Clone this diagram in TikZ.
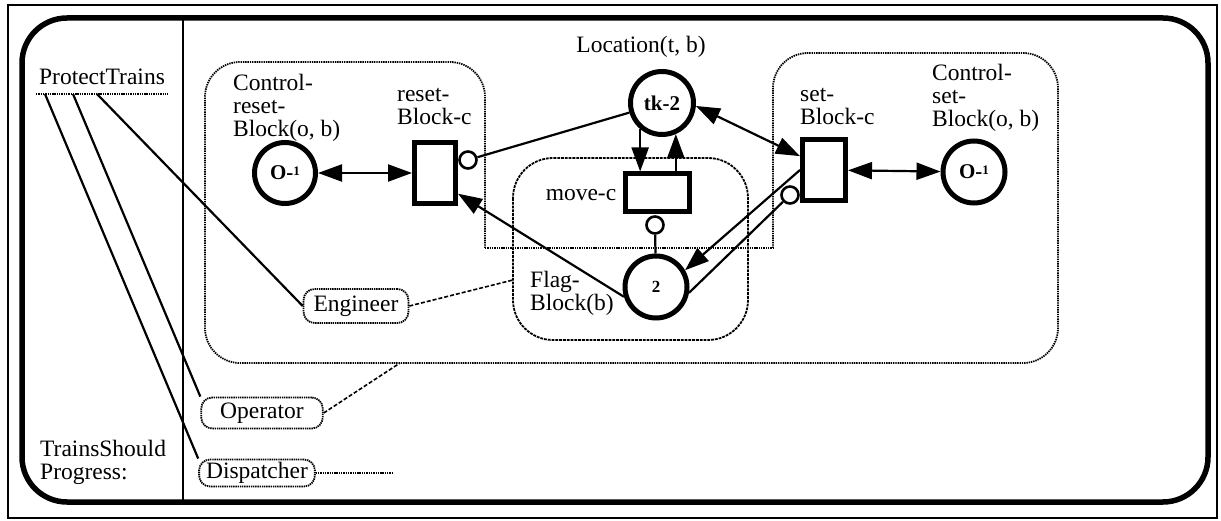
\documentclass[tikz,border=0pt]{standalone}
\usepackage{fontspec}
\setmainfont{Liberation Serif}
\usetikzlibrary{arrows.meta}
\begin{document}
\begin{tikzpicture}[x=1pt,y=-1pt,
  lbl/.style={font=\fontsize{23.5}{23}\selectfont, align=left, inner sep=0pt},
  pl/.style={circle, draw, line width=5pt, inner sep=0pt, fill=white, minimum size=#1,
             font=\fontsize{21}{21}\selectfont\bfseries},
  pl/.default=62pt,
  tr/.style={rectangle, draw, line width=5pt, inner sep=0pt, fill=white},
  inh/.style={circle, draw, line width=2.6pt, inner sep=0pt, minimum size=17pt, fill=white},
  conn/.style={line width=2.2pt},
  tipend/.style={conn, -{Triangle[length=24pt,width=17pt]}},
  tipboth/.style={conn, {Triangle[length=24pt,width=17pt]}-{Triangle[length=24pt,width=17pt]}},
  region/.style={line width=1.8pt, dash pattern=on 1.4pt off 0.9pt},
  subregion/.style={line width=1.8pt, dash pattern=on 2.8pt off 1pt},
  role/.style={draw, rounded corners=11pt, line width=1.8pt, dash pattern=on 1.4pt off 0.8pt,
               font=\fontsize{23.5}{23}\selectfont, inner ysep=0pt, fill=white},
  link/.style={line width=1.6pt, dash pattern=on 4pt off 2pt},
]
\useasboundingbox (0,0) rectangle (1221,521);

% frames
\draw[line width=2.8pt] (8,5) rectangle (1217,518);
\draw[line width=5.5pt, rounded corners=45pt] (22,18) rectangle (1208,502);
\draw[line width=2.6pt] (183,18) -- (183,502);

% scope regions
\draw[region, rounded corners=35pt] (485,248) -- (485,62) -- (205,62) -- (205,363)
      -- (1058,363) -- (1058,53) -- (773,53) -- (773,248);
\draw[region] (485,248) -- (773,248);
\draw[subregion, rounded corners=40pt] (513,158) rectangle (748,340);

% left column
\node[lbl] (pt) at (102,77) {ProtectTrains};
\draw[region] (36,94) -- (168,94);
\coordinate (u1) at (45,94);
\coordinate (u2) at (73,94);
\coordinate (u3) at (97,94);
\node[lbl, anchor=north west] (tsp) at (40,440) {TrainsShould\\Progress:};

% labels
\node[lbl, anchor=north west] (crl) at (233,74) {Control-\\reset-\\Block(o, b)};
\node[lbl, anchor=north west] (rbl) at (397,88) {reset-\\Block-c};
\node[lbl] (locl) at (641,47) {Location(t, b)};
\node[lbl] (movl) at (581,195) {move-c};
\node[lbl, anchor=north west] (flgl) at (530,271) {Flag-\\Block(b)};
\node[lbl, anchor=north west] (sbl) at (800,88) {set-\\Block-c};
\node[lbl, anchor=north west] (csl) at (932,64) {Control-\\set-\\Block(o, b)};

% places and transitions
\node[pl=61pt] (crp) at (285,173) {O-\raisebox{4pt}{\fontsize{13}{13}\selectfont 1}};
\node[tr, minimum width=41pt, minimum height=61pt] (rst) at (435,173) {};
\node[inh] (ihr) at (468,160) {};
\node[pl=63pt] (loc) at (662,103) {tk-2};
\node[tr, minimum width=64pt, minimum height=38pt] (mov) at (657,193) {};
\node[inh] (ihm) at (655,225) {};
\node[pl=62pt, font=\fontsize{17}{17}\selectfont\bfseries] (flg) at (656,287) {2};
\node[tr, minimum width=43pt, minimum height=61pt] (set) at (824,170) {};
\node[inh] (ihs) at (790,195) {};
\node[pl=62pt] (csp) at (974,172) {O-\raisebox{4pt}{\fontsize{13}{13}\selectfont 1}};

% arcs
\draw[tipboth] (crp) -- (rst);
\draw[conn] (ihr) -- (loc);
\draw[tipend] (loc.-130) -- (loc.-130 |- mov.north);
\draw[tipend] (loc.-66 |- mov.north) -- (loc.-66);
\draw[tipend] (flg.197) -- (rst.-42);
\draw[conn] (ihm) -- (flg);
\draw[tipend] (set.west) -- (flg.30);
\draw[conn] (flg.-10) -- (ihs);
\draw[tipboth] (loc.-5) -- (set.150);
\draw[tipboth] (set) -- (csp);

% roles
\node[role, inner xsep=10pt, minimum height=34pt] (eng) at (356,306) {Engineer};
\node[role, inner xsep=19pt, minimum height=31pt] (opr) at (262,413) {Operator};
\node[role, inner xsep=7pt, minimum height=27pt] (dsp) at (257,473) {Dispatcher};

\draw[conn] (u1) -- (dsp.north west);
\draw[conn] (u2) -- (opr.north west);
\draw[conn] (u3) -- (eng.west);

\coordinate (mvl) at (513,280);
\coordinate (bgb) at (400,363);
\coordinate (dend) at (393,473);
\draw[link] (eng.east) -- (mvl);
\draw[link] (opr.east) -- (bgb);
\draw[region] (dsp.east) -- (dend);
\end{tikzpicture}
\end{document}
